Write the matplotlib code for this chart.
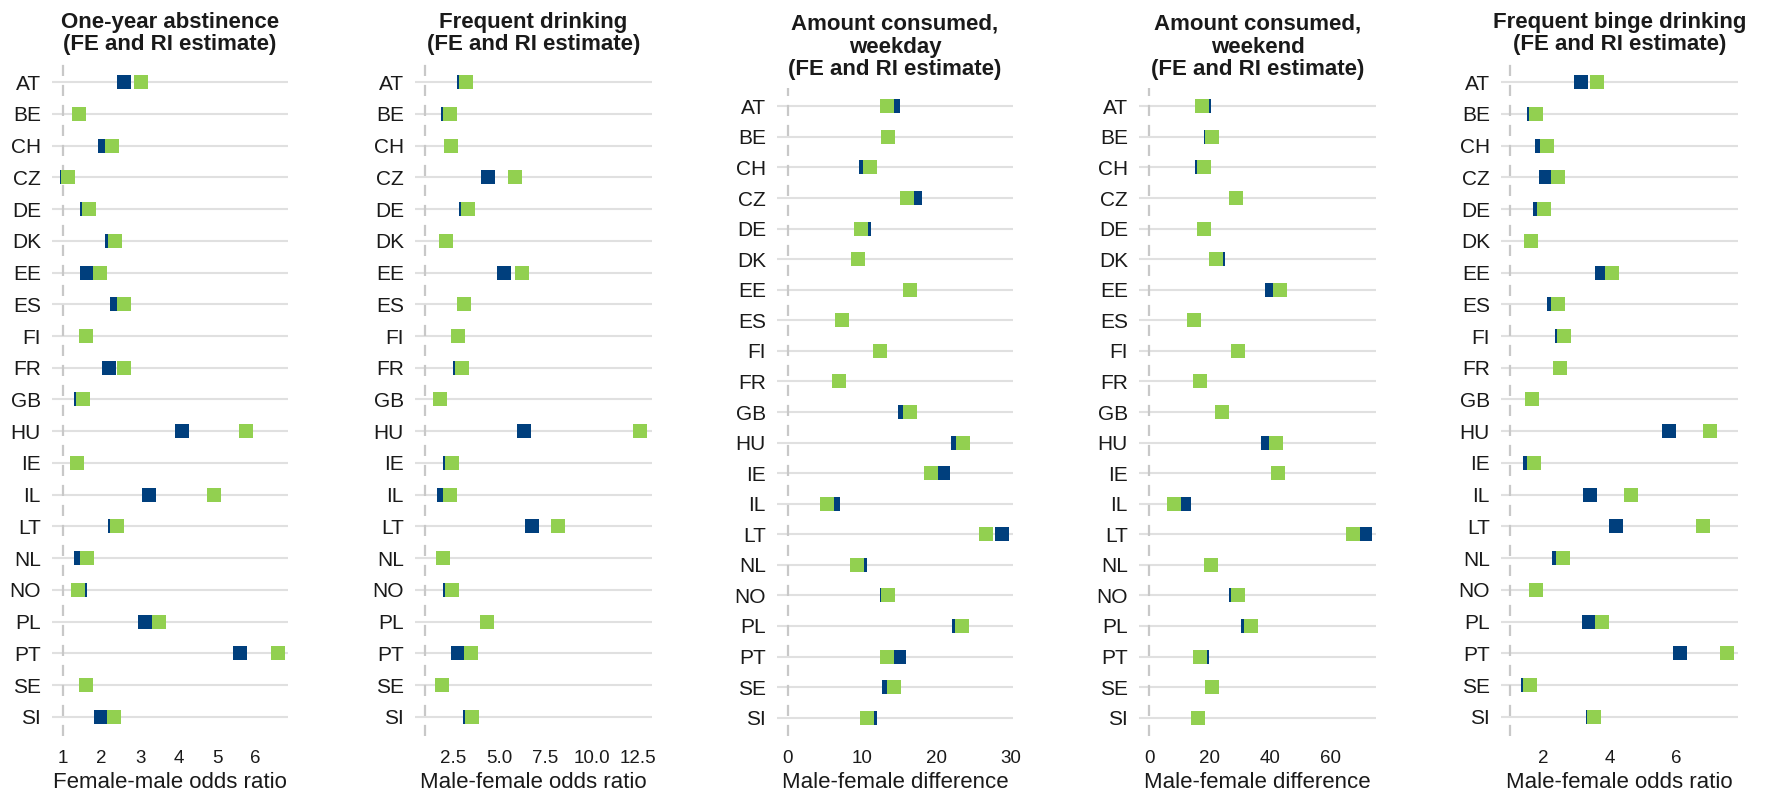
import matplotlib
matplotlib.use("Agg")
import matplotlib.pyplot as plt

plt.rcParams['font.family'] = ['Liberation Sans', 'DejaVu Sans']

# Data
countries = ["AT", "BE", "CH", "CZ", "DE", "DK", "EE", "ES", "FI", "FR", "GB",
             "HU", "IE", "IL", "LT", "NL", "NO", "PL", "PT", "SE", "SI"]

titles = ["One-year abstinence\n(FE and RI estimate)",
          "Frequent drinking\n(FE and RI estimate)",
          "Amount consumed,\nweekday\n(FE and RI estimate)",
          "Amount consumed,\nweekend\n(FE and RI estimate)",
          "Frequent binge drinking\n(FE and RI estimate)"]

xlabels = ["Female-male odds ratio", "Male-female odds ratio", "Male-female difference",
           "Male-female difference", "Male-female odds ratio"]

# FE (blue) and RI (green) estimates per panel
abst_fe = [2.58, 1.42, 2.10, 1.10, 1.63, 2.26, 1.63, 2.41, 1.60, 2.20, 1.47,
           4.08, 1.37, 3.24, 2.36, 1.47, 1.44, 3.12, 5.60, 1.60, 1.99]
abst_ri = [3.03, 1.42, 2.26, 1.14, 1.68, 2.36, 1.95, 2.57, 1.60, 2.57, 1.53,
           5.74, 1.37, 4.91, 2.41, 1.63, 1.39, 3.48, 6.59, 1.60, 2.33]

freq_fe = [3.13, 2.24, 2.40, 4.42, 3.23, 2.15, 5.29, 3.13, 2.80, 2.91, 1.83,
           6.37, 2.37, 2.04, 6.80, 1.99, 2.35, 4.33, 2.77, 1.94, 3.42]
freq_ri = [3.23, 2.37, 2.42, 5.88, 3.34, 2.15, 6.26, 3.13, 2.80, 3.02, 1.83,
           12.64, 2.48, 2.37, 8.21, 1.99, 2.45, 4.33, 3.47, 1.94, 3.52]

wday_fe = [14.1, 13.5, 10.6, 17.1, 10.3, 9.4, 16.5, 7.25, 12.4, 6.9, 15.8,
           22.9, 20.9, 6.1, 28.8, 9.7, 13.3, 23.0, 15.0, 13.6, 11.1]
wday_ri = [13.3, 13.5, 11.1, 16.0, 9.8, 9.4, 16.5, 7.25, 12.4, 6.9, 16.5,
           23.6, 19.2, 5.3, 26.6, 9.3, 13.5, 23.4, 13.3, 14.3, 10.7]

wend_fe = [18.3, 20.4, 17.6, 28.8, 18.3, 22.9, 40.7, 14.9, 29.5, 16.9, 24.2,
           39.4, 42.7, 11.6, 71.3, 20.5, 28.7, 32.7, 17.5, 20.9, 16.3]
wend_ri = [17.6, 20.9, 18.3, 28.8, 18.3, 22.2, 43.3, 14.9, 29.5, 16.9, 24.2,
           42.0, 42.7, 8.3, 67.3, 20.5, 29.5, 33.7, 16.9, 20.9, 16.3]

binge_fe = [3.13, 1.73, 1.97, 2.10, 1.91, 1.65, 3.78, 2.34, 2.57, 2.52, 1.68,
            5.78, 1.61, 3.42, 4.20, 2.47, 1.80, 3.37, 6.11, 1.55, 3.49]
binge_ri = [3.61, 1.80, 2.13, 2.46, 2.04, 1.65, 4.08, 2.46, 2.64, 2.52, 1.68,
            7.01, 1.74, 4.64, 6.80, 2.59, 1.80, 3.78, 7.53, 1.62, 3.53]

fe_values = [abst_fe, freq_fe, wday_fe, wend_fe, binge_fe]
ri_values = [abst_ri, freq_ri, wday_ri, wend_ri, binge_ri]

ref_lines = [1, 1, 0, 0, 1]
xlims = [(0.714, 6.84), (0.46, 13.27), (-1.41, 30.27), (-3.3, 74.9), (0.737, 7.865)]
xticks = [[1, 2, 3, 4, 5, 6], [2.5, 5.0, 7.5, 10.0, 12.5], [0, 10, 20, 30],
          [0, 20, 40, 60], [2, 4, 6]]
xticklabels = [["1", "2", "3", "4", "5", "6"], ["2.5", "5.0", "7.5", "10.0", "12.5"],
               ["0", "10", "20", "30"], ["0", "20", "40", "60"], ["2", "4", "6"]]

# panel boxes in pixels: (left, right, top, bottom)
W, H = 1771, 798
boxes = [(52, 288, 63, 736), (415, 652, 63, 736), (777, 1013, 88, 736),
         (1139, 1376, 88, 736), (1501, 1738, 63, 736)]

BLUE = "#003F7D"
GREEN = "#92D050"
TEXT = "#1a1a1a"

fig = plt.figure(figsize=(W / 100, H / 100), dpi=100)

for i in range(5):
    l, r, t, b = boxes[i]
    ax = fig.add_axes([l / W, 1 - b / H, (r - l) / W, (b - t) / H])
    n = len(countries)
    ypos = list(range(n))

    for y in ypos:
        ax.axhline(y, color="#e0e0e0", lw=1.5, zorder=0)
    ax.axvline(ref_lines[i], color="#c8c8c8", lw=1.6, ls=(0, (5, 4)), zorder=1)

    ax.plot(fe_values[i], ypos, ls="none", marker="s", ms=10.2, mew=0,
            color=BLUE, zorder=3)
    ax.plot(ri_values[i], ypos, ls="none", marker="s", ms=10.2, mew=0,
            color=GREEN, zorder=4)

    ax.set_ylim(n - 1 + 0.6, -0.6)
    ax.set_xlim(*xlims[i])
    ax.set_yticks(ypos)
    ax.set_yticklabels(countries, fontsize=15, color=TEXT)
    ax.set_xticks(xticks[i])
    ax.set_xticklabels(xticklabels[i], fontsize=13.5, color=TEXT)
    ax.tick_params(axis="both", length=0)
    ax.tick_params(axis="y", pad=8)
    ax.tick_params(axis="x", pad=10)
    for s in ax.spines.values():
        s.set_visible(False)

    ax.set_xlabel(xlabels[i], fontsize=16, color=TEXT, labelpad=4)
    ax.set_title(titles[i], fontsize=16, fontweight="bold", color=TEXT,
                 pad=9, linespacing=1.12)

fig.savefig("out.png", dpi=100, facecolor="white")
